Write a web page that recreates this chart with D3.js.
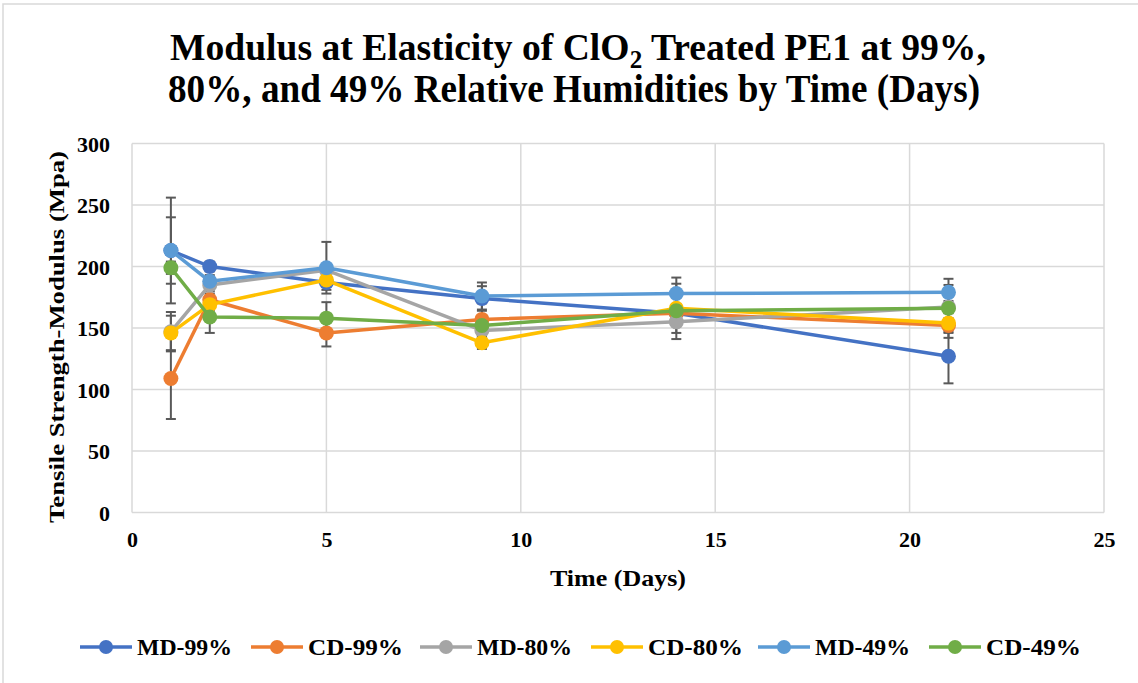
<!DOCTYPE html>
<html>
<head>
<meta charset="utf-8">
<script src="https://cdn.jsdelivr.net/npm/d3@7"></script>
<style>
  html, body { margin: 0; padding: 0; background: #fff; }
  svg { display: block; }
  text { font-family: "Liberation Serif", "Times New Roman", serif; font-weight: bold; fill: #000; }
</style>
</head>
<body>
<svg id="chart" width="1138" height="683"></svg>
<script>
// Sampling days
const days = [1, 2, 5, 9, 14, 21];

// Series names and colours
const seriesNames = ["MD-99%", "CD-99%", "MD-80%", "CD-80%", "MD-49%", "CD-49%"];
const seriesColors = ["#4472C4", "#ED7D31", "#A5A5A5", "#FFC000", "#5B9BD5", "#70AD47"];

// Modulus values (MPa) per series, one value per sampling day
const md99 = [213, 200, 187, 174, 162, 127];
const cd99 = [109, 173, 146, 157, 162, 152];
const md80 = [147, 185, 197, 148, 155, 167];
const cd80 = [146, 169, 189, 138, 166, 154];
const md49 = [213, 188, 199, 176, 178, 179];
const cd49 = [199, 159, 158, 152, 164, 166];

// Error bar half-widths (MPa)
const md99Err = [43, 4, 6, 10, 5, 22];
const cd99Err = [33, 5, 11, 13, 5, 6];
const md80Err = [16, 5, 5, 5, 14, 5];
const cd80Err = [14, 5, 5, 5, 20, 12];
const md49Err = [27, 5, 21, 11, 13, 11];
const cd49Err = [5, 13, 13, 5, 5, 19];

// Axis ticks
const xTicks = [0, 5, 10, 15, 20, 25];
const yTicks = [0, 50, 100, 150, 200, 250, 300];

const seriesValues = [md99, cd99, md80, cd80, md49, cd49];
const seriesErrors = [md99Err, cd99Err, md80Err, cd80Err, md49Err, cd49Err];
const series = seriesNames.map((name, i) => ({
  name, color: seriesColors[i],
  points: days.map((d, j) => ({ x: d, y: seriesValues[i][j], e: seriesErrors[i][j] }))
}));

const svg = d3.select("#chart");
const W = 1138, H = 683;
const plot = { left: 132, right: 1104, top: 143.5, bottom: 512.5 };

// Outer chart border
svg.append("rect")
  .attr("x", 3).attr("y", 4).attr("width", W + 10).attr("height", H + 10)
  .attr("fill", "#fff").attr("stroke", "#d9d9d9").attr("stroke-width", 1.5);

const x = d3.scaleLinear().domain([0, 25]).range([plot.left, plot.right]);
const y = d3.scaleLinear().domain([0, 300]).range([plot.bottom, plot.top]);

// Squeeze or stretch text horizontally to a given width
function fit(sel, width) {
  sel.attr("textLength", width).attr("lengthAdjust", "spacingAndGlyphs");
  return sel;
}

// Title line 1: pieces laid side by side (with the subscript 2), then the
// whole group is scaled horizontally to the wanted width
const tg = svg.append("g");
const pieces = [
  { t: "Modulus at Elasticity of ClO", size: 39, dy: 0 },
  { t: "2", size: 26, dy: 8 },
  { t: " Treated PE1 at 99%,", size: 39, dy: 0 }
];
let cx = 0;
pieces.forEach(p => {
  const el = tg.append("text").attr("x", cx).attr("y", p.dy)
    .style("font-size", p.size + "px").style("white-space", "pre")
    .attr("xml:space", "preserve").text(p.t);
  cx += el.node().getComputedTextLength();
});
const t1Width = 816;
const sx = t1Width / cx;
tg.attr("transform", `translate(${578 - t1Width / 2},60) scale(${sx},1)`);

const t2 = svg.append("text").attr("x", 574).attr("y", 102)
  .attr("text-anchor", "middle").style("font-size", "39px")
  .text("80%, and 49% Relative Humidities by Time (Days)");
fit(t2, 812);

// Gridlines
const g = svg.append("g");
g.selectAll("line.hgrid").data(yTicks).join("line").attr("class", "hgrid")
  .attr("x1", plot.left).attr("x2", plot.right)
  .attr("y1", d => y(d)).attr("y2", d => y(d))
  .attr("stroke", "#d9d9d9").attr("stroke-width", 1.5);
g.selectAll("line.vgrid").data(xTicks).join("line").attr("class", "vgrid")
  .attr("y1", plot.top).attr("y2", plot.bottom)
  .attr("x1", d => x(d)).attr("x2", d => x(d))
  .attr("stroke", "#d9d9d9").attr("stroke-width", 1.5);

// Axes (labels only; the lines are the gridlines)
const yAxis = svg.append("g").attr("transform", `translate(${plot.left},0)`)
  .call(d3.axisLeft(y).tickValues(yTicks).tickSize(0).tickPadding(22));
yAxis.select(".domain").remove();
yAxis.selectAll("text").style("font-size", "22px").attr("dy", "0.36em");

const xAxis = svg.append("g").attr("transform", `translate(0,${plot.bottom})`)
  .call(d3.axisBottom(x).tickValues(xTicks).tickSize(0).tickPadding(19));
xAxis.select(".domain").remove();
xAxis.selectAll("text").style("font-size", "22px");

// Axis titles
fit(svg.append("text").attr("transform", "translate(64,337) rotate(-90)")
  .attr("text-anchor", "middle").style("font-size", "22px")
  .text("Tensile Strength-Modulus  (Mpa)"), 372);
fit(svg.append("text").attr("x", 618).attr("y", 586)
  .attr("text-anchor", "middle").style("font-size", "23px")
  .text("Time (Days)"), 136);

// Error bars
const eb = svg.append("g");
series.forEach(s => {
  s.points.forEach(p => {
    const gx = x(p.x);
    eb.append("line").attr("x1", gx).attr("x2", gx)
      .attr("y1", y(p.y - p.e)).attr("y2", y(p.y + p.e))
      .attr("stroke", "#595959").attr("stroke-width", 2);
    [p.y - p.e, p.y + p.e].forEach(v => {
      eb.append("line").attr("x1", gx - 5).attr("x2", gx + 5)
        .attr("y1", y(v)).attr("y2", y(v))
        .attr("stroke", "#595959").attr("stroke-width", 2);
    });
  });
});

// Lines and markers
const line = d3.line().x(d => x(d.x)).y(d => y(d.y));
series.forEach(s => {
  const sg = svg.append("g");
  sg.append("path").datum(s.points).attr("d", line)
    .attr("fill", "none").attr("stroke", s.color).attr("stroke-width", 3.5)
    .attr("stroke-linejoin", "round");
  sg.selectAll("circle").data(s.points).join("circle")
    .attr("cx", d => x(d.x)).attr("cy", d => y(d.y)).attr("r", 7.5)
    .attr("fill", s.color);
});

// Legend
const legendX = [80, 251, 420, 591, 758, 929];
const leg = svg.append("g");
series.forEach((s, i) => {
  const lx = legendX[i], ly = 647;
  leg.append("line").attr("x1", lx).attr("x2", lx + 52).attr("y1", ly).attr("y2", ly)
    .attr("stroke", s.color).attr("stroke-width", 3.5);
  leg.append("circle").attr("cx", lx + 26).attr("cy", ly).attr("r", 7).attr("fill", s.color);
  fit(leg.append("text").attr("x", lx + 57).attr("y", ly + 8)
    .style("font-size", "23px").text(s.name), 95);
});
</script>
</body>
</html>
